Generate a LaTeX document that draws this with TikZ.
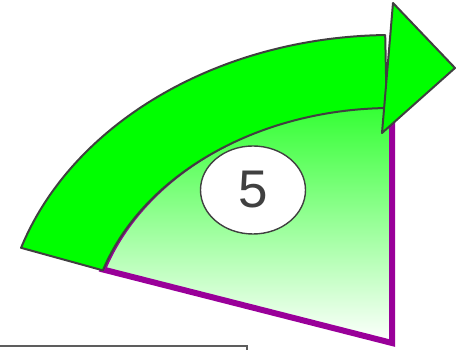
\documentclass[tikz,border=0pt]{standalone}
\usepackage{fontspec}
\setmainfont{Liberation Sans}
\usetikzlibrary{shapes.geometric}
\definecolor{bandgreen}{RGB}{0,255,0}
\definecolor{lightgreen}{RGB}{50,255,50}
\definecolor{palegreen}{RGB}{210,255,210}
\definecolor{edgegray}{RGB}{64,64,64}
\definecolor{wedgepurple}{RGB}{153,0,153}
\begin{document}
\begin{tikzpicture}[x=1pt,y=1pt,
 band/.style={fill=bandgreen,draw=edgegray,line width=2pt,line join=round},
 wedge/.style={top color=lightgreen,middle color=palegreen,bottom color=white,draw=wedgepurple,line width=6pt},
 numlabel/.style={ellipse,draw=edgegray,fill=white,line width=1.4pt,minimum width=105pt,minimum height=88pt,inner sep=0pt,text=edgegray,font=\fontsize{53}{53}\selectfont}]
\useasboundingbox (0,0) rectangle (461,350);
\begin{scope}[shift={(392,7)}]
\shadedraw[wedge] (0,0)--(162:304 and 238) arc[start angle=162,end angle=90,x radius=304,y radius=238]--cycle;
\draw[band] (162:390 and 308) arc[start angle=162,end angle=91,x radius=390,y radius=308]
 --(91:304 and 235) arc[start angle=91,end angle=162,x radius=304,y radius=235]--cycle;
\end{scope}
\draw[band] (393,347)--(455,282)--(382,217)--cycle;
\node[numlabel] (num) at (253,160) {5};
\draw[edgegray!85,line width=1.5pt] (0,4)--(247,4)--(247,-3);
\end{tikzpicture}
\end{document}
